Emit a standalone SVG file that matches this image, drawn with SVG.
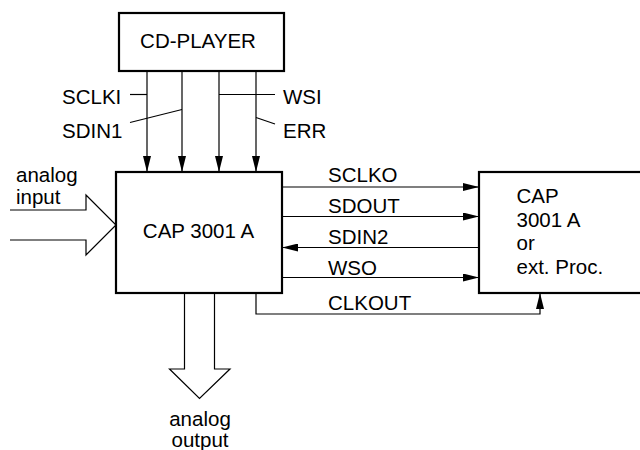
<svg xmlns="http://www.w3.org/2000/svg" width="640" height="450" viewBox="0 0 640 450">
<style>
.box{fill:#fff;stroke:#000;stroke-width:2.2}
.ln{fill:none;stroke:#000;stroke-width:1.2}
.big{fill:#fff;stroke:#000;stroke-width:1.2}
text{font-family:"Liberation Sans",Arial,sans-serif;font-size:20.5px;fill:#000}
</style>
<defs>
<marker id="ah" viewBox="0 0 16 8" refX="16" refY="4" markerWidth="16" markerHeight="8" markerUnits="userSpaceOnUse" orient="auto">
<path d="M0,0 L16,4 L0,8 Z" fill="#000"/>
</marker>
</defs>
<g id="connectors">
<path class="ln" d="M147,71 V172" marker-end="url(#ah)"/>
<path class="ln" d="M182,71 V172" marker-end="url(#ah)"/>
<path class="ln" d="M219,71 V172" marker-end="url(#ah)"/>
<path class="ln" d="M256,71 V172" marker-end="url(#ah)"/>
<path class="ln" d="M130,94.5 H147"/>
<path class="ln" d="M130,122.5 L182,109.5"/>
<path class="ln" d="M219,94.5 H275"/>
<path class="ln" d="M256,117.5 L275,124"/>
<path class="ln" d="M282,187 H479" marker-end="url(#ah)"/>
<path class="ln" d="M282,216.5 H479" marker-end="url(#ah)"/>
<path class="ln" d="M479,247.5 H282" marker-end="url(#ah)"/>
<path class="ln" d="M282,277.5 H479" marker-end="url(#ah)"/>
<path class="ln" d="M256,293 V314 H540 V293" marker-end="url(#ah)"/>
<path class="big" d="M10,210 H86 V195 L116,225 L86,255 V240 H10"/>
<path class="big" d="M184.5,293 V369 H169.5 L199.5,398.5 L230,369 H214.5 V293"/>
</g>
<g id="cdplayer">
<rect class="box" x="119" y="13" width="165" height="58"/>
<text x="198" y="48" text-anchor="middle">CD-PLAYER</text>
</g>
<g id="cap">
<rect class="box" x="116" y="172" width="166" height="121"/>
<text x="198.5" y="238" text-anchor="middle">CAP 3001 A</text>
</g>
<g id="ext">
<rect class="box" x="479" y="172" width="170" height="121"/>
<text x="516.5" y="202.5">CAP</text>
<text x="516.5" y="226.5">3001 A</text>
<text x="516.5" y="250">or</text>
<text x="516.5" y="273.5">ext. Proc.</text>
</g>
<g id="labels">
<text x="62" y="104">SCLKI</text>
<text x="62" y="137.5">SDIN1</text>
<text x="283" y="104">WSI</text>
<text x="283" y="137.5">ERR</text>
<text x="16" y="182">analog</text>
<text x="16" y="204">input</text>
<text x="328" y="181.5">SCLKO</text>
<text x="328" y="213">SDOUT</text>
<text x="328" y="244">SDIN2</text>
<text x="328" y="275">WSO</text>
<text x="328" y="310">CLKOUT</text>
<text x="200" y="425.5" text-anchor="middle">analog</text>
<text x="200" y="446.5" text-anchor="middle">output</text>
</g>
</svg>
